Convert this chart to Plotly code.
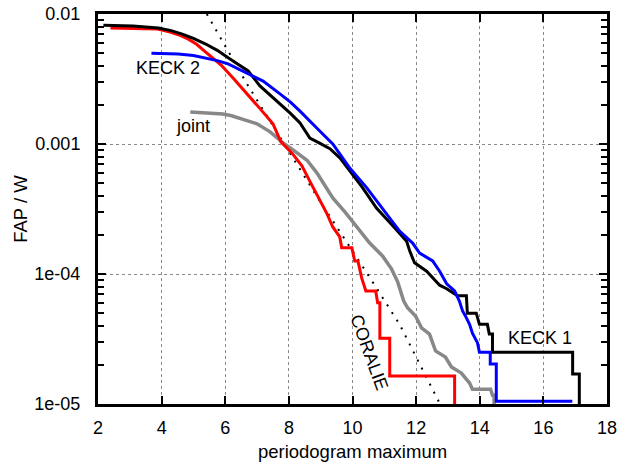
import plotly.graph_objects as go

# False-alarm probability (normalised by W) against periodogram maximum
keck1_x = [2.17, 3.10, 3.90, 4.30, 4.65, 5.00, 5.37, 5.75, 6.09, 6.40, 6.72, 7.09, 7.40,
           7.72, 8.05, 8.35, 8.66, 8.95, 9.29, 9.61, 9.92, 10.32, 10.76, 11.05, 11.33,
           11.70, 11.80, 11.95, 12.33, 12.74, 12.96, 13.30, 13.58, 13.61, 13.89, 13.99,
           14.24, 14.30, 14.40, 14.40, 16.92, 16.92, 17.13, 17.13]
keck1_y = [8.2e-3, 8.1e-3, 7.8e-3, 7.45e-3, 7.0e-3, 6.5e-3, 5.9e-3, 5.25e-3, 4.6e-3,
           4.1e-3, 3.65e-3, 2.8e-3, 2.4e-3, 2.03e-3, 1.72e-3, 1.45e-3, 1.11e-3, 1.02e-3,
           9.2e-4, 7.8e-4, 6.2e-4, 4.6e-4, 3.2e-4, 2.7e-4, 2.26e-4, 1.79e-4, 1.50e-4,
           1.22e-4, 1.05e-4, 8.2e-5, 7.7e-5, 6.8e-5, 6.8e-5, 5.0e-5, 5.0e-5, 4.1e-5,
           4.1e-5, 3.45e-5, 3.45e-5, 2.5e-5, 2.5e-5, 1.7e-5, 1.7e-5, 1e-6]

keck2_x = [3.68, 4.52, 5.00, 5.37, 5.75, 6.09, 6.40, 6.72, 7.19, 7.72, 8.05, 8.35, 8.65,
           8.97, 9.38, 9.65, 9.92, 10.45, 10.95, 11.48, 11.89, 12.11, 12.52, 12.74, 12.96,
           13.21, 13.36, 13.46, 13.58, 13.68, 13.77, 13.93, 13.99, 14.33, 14.33, 14.52,
           14.52, 16.91]
keck2_y = [5.0e-3, 4.92e-3, 4.8e-3, 4.6e-3, 4.38e-3, 4.13e-3, 3.8e-3, 3.45e-3, 3.05e-3,
           2.43e-3, 2.1e-3, 1.79e-3, 1.5e-3, 1.26e-3, 1.0e-3, 8.1e-4, 6.5e-4, 4.6e-4,
           3.16e-4, 2.14e-4, 1.73e-4, 1.45e-4, 1.26e-4, 1.05e-4, 8.4e-5, 7.4e-5, 6.2e-5,
           5.2e-5, 4.6e-5, 4.1e-5, 3.5e-5, 2.95e-5, 2.5e-5, 2.5e-5, 2.03e-5, 2.03e-5,
           1.05e-5, 1.05e-5]

coralie_x = [2.39, 3.49, 3.87, 4.27, 4.55, 4.84, 5.10, 5.34, 5.60, 5.87, 6.28, 6.78, 7.16,
             7.50, 7.75, 8.10, 8.41, 8.69, 8.91, 9.20, 9.38, 9.60, 9.66, 9.98, 10.07,
             10.17, 10.29, 10.42, 10.73, 10.79, 10.86, 10.86, 11.17, 11.17, 13.21, 13.21]
coralie_y = [7.8e-3, 7.7e-3, 7.65e-3, 7.25e-3, 6.9e-3, 6.4e-3, 5.85e-3, 5.2e-3, 4.6e-3,
             4.05e-3, 3.15e-3, 2.3e-3, 1.79e-3, 1.43e-3, 1.04e-3, 8.5e-4, 6.8e-4, 5.0e-4,
             4.0e-4, 2.9e-4, 2.3e-4, 1.93e-4, 1.59e-4, 1.59e-4, 1.26e-4, 1.26e-4, 9.3e-5,
             7.4e-5, 7.4e-5, 6.0e-5, 6.0e-5, 3.2e-5, 3.2e-5, 1.64e-5, 1.64e-5, 1e-6]

joint_x = [4.90, 5.53, 5.93, 6.20, 6.47, 6.75, 7.00, 7.41, 7.82, 8.13, 8.57, 8.88, 9.38,
           9.76, 10.17, 10.54, 10.95, 11.23, 11.42, 11.61, 11.73, 11.98, 12.17, 12.42,
           12.61, 12.92, 13.11, 13.42, 13.68, 13.77, 14.34, 14.40, 14.45, 14.45]
joint_y = [1.76e-3, 1.73e-3, 1.70e-3, 1.65e-3, 1.58e-3, 1.51e-3, 1.43e-3, 1.24e-3,
           1.02e-3, 9.0e-4, 7.5e-4, 6.0e-4, 3.85e-4, 3.0e-4, 2.26e-4, 1.73e-4, 1.37e-4,
           1.09e-4, 8.7e-5, 6.2e-5, 5.5e-5, 4.75e-5, 3.85e-5, 3.45e-5, 2.56e-5, 2.30e-5,
           1.93e-5, 1.73e-5, 1.45e-5, 1.30e-5, 1.30e-5, 1.17e-5, 1.17e-5, 1e-6]

theory_x = [5.42, 6.72, 8.97, 9.60, 10.45, 11.48, 12.64, 12.75]
theory_y = [1.0e-2, 2.8e-3, 3.65e-4, 2.14e-4, 1.02e-4, 4.1e-5, 1.1e-5, 1.0e-5]

x_ticks = [2, 4, 6, 8, 10, 12, 14, 16, 18]
y_ticks = [1e-5, 1e-4, 1e-3, 1e-2]
y_tick_text = ["1e-05", "1e-04", "0.001", "0.01"]
y_minor = [m * 10.0 ** e for e in (-5, -4, -3) for m in range(2, 10)]

FONT = "Liberation Sans, Arial, sans-serif"

fig = go.Figure()
fig.add_trace(go.Scatter(x=theory_x, y=theory_y, mode="lines",
                         line=dict(color="black", width=2, dash="2px,7px")))
fig.add_trace(go.Scatter(x=joint_x, y=joint_y, mode="lines",
                         line=dict(color="#888888", width=3.5)))
fig.add_trace(go.Scatter(x=coralie_x, y=coralie_y, mode="lines",
                         line=dict(color="#ff0000", width=3)))
fig.add_trace(go.Scatter(x=keck1_x, y=keck1_y, mode="lines",
                         line=dict(color="black", width=3)))
fig.add_trace(go.Scatter(x=keck2_x, y=keck2_y, mode="lines",
                         line=dict(color="#0000ff", width=3)))

labels = [
    ("KECK 2", 4.19, -2.415, 0),
    ("joint", 4.99, -2.858, 0),
    ("KECK 1", 15.88, -4.492, 0),
    ("CORALIE", 10.52, -4.600, 70),
]
for text, lx, ly, ang in labels:
    fig.add_annotation(x=lx, y=ly, xref="x", yref="y", text=text, showarrow=False,
                       textangle=ang, font=dict(family=FONT, size=18, color="black"))

axis_common = dict(
    showline=True, linewidth=3, linecolor="black", mirror="allticks",
    ticks="inside", ticklen=8, tickwidth=2, tickcolor="black",
    showgrid=True, gridcolor="#8a8a8a", gridwidth=1, griddash="dot",
    zeroline=False, automargin=False,
    tickfont=dict(family=FONT, size=18, color="black"),
)
title_font = dict(family=FONT, size=18.5, color="black")

fig.update_xaxes(range=[2, 18], tickvals=x_ticks, ticklabelstandoff=5,
                 title=dict(text="periodogram maximum", standoff=11, font=title_font),
                 **axis_common)
fig.update_yaxes(type="log", range=[-5, -2], tickvals=y_ticks, ticktext=y_tick_text,
                 ticklabelstandoff=11,
                 minor=dict(ticks="inside", ticklen=6, tickwidth=1.5, tickcolor="black",
                            tickmode="array", tickvals=y_minor, showgrid=False),
                 title=dict(text="FAP / W", standoff=2, font=title_font),
                 **axis_common)

fig.update_layout(
    width=625, height=462,
    margin=dict(l=98, r=18, t=14, b=58),
    plot_bgcolor="white", paper_bgcolor="white",
    showlegend=False,
)

fig.write_html("out.html")
